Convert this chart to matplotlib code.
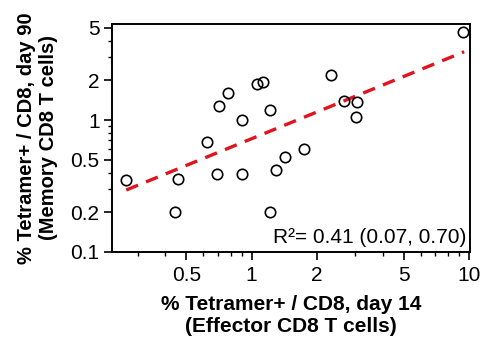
import numpy as np
import matplotlib
matplotlib.use('Agg')
import matplotlib.pyplot as plt
from matplotlib.ticker import LogLocator, FixedLocator, FixedFormatter, NullFormatter

plt.rcParams['font.family'] = ['Liberation Sans', 'DejaVu Sans']

# data
effector_d14 = [0.265, 0.456, 0.446, 0.622, 0.693, 0.708, 0.776, 0.906, 0.906, 1.054, 1.13,
                1.22, 1.21, 1.30, 1.43, 1.74, 2.31, 2.65, 3.05, 3.02, 9.35]
memory_d90 = [0.351, 0.36, 0.20, 0.678, 0.39, 1.27, 1.59, 1.0, 0.39, 1.87, 1.93,
              1.20, 0.20, 0.42, 0.52, 0.603, 2.19, 1.39, 1.37, 1.05, 4.64]
fit_x = [0.265, 9.5]
fit_y = [0.295, 3.29]
x_ticks = [0.5, 1, 2, 5, 10]
x_ticklabels = ['0.5', '1', '2', '5', '10']
y_ticks = [0.1, 0.2, 0.5, 1, 2, 5]
y_ticklabels = ['0.1', '0.2', '0.5', '1', '2', '5']

fig = plt.figure(figsize=(4.81, 3.41), dpi=100)
ax = fig.add_axes([0.233, 0.261, 0.744, 0.669])

ax.plot(fit_x, fit_y, color='#e0141e', lw=2.4, linestyle=(0, (3.8, 2.6)), zorder=2)
ax.plot(effector_d14, memory_d90, 'o', mfc='none', mec='black', ms=7.5, mew=1.2, zorder=3)

ax.set_xscale('log')
ax.set_yscale('log')
ax.set_xlim(0.228, 10.1)
ax.set_ylim(0.1, 5.35)

ax.xaxis.set_major_locator(FixedLocator(x_ticks))
ax.xaxis.set_major_formatter(FixedFormatter(x_ticklabels))
ax.yaxis.set_major_locator(FixedLocator(y_ticks))
ax.yaxis.set_major_formatter(FixedFormatter(y_ticklabels))
ax.xaxis.set_minor_locator(LogLocator(base=10, subs=np.arange(2, 10)))
ax.yaxis.set_minor_locator(LogLocator(base=10, subs=np.arange(2, 10)))
ax.xaxis.set_minor_formatter(NullFormatter())
ax.yaxis.set_minor_formatter(NullFormatter())

ax.tick_params(which='major', direction='out', length=6, width=1.2, labelsize=15, pad=3, colors='black')
ax.tick_params(which='minor', direction='out', length=3, width=1.0)
ax.tick_params(axis='x', which='major', pad=4)
for s in ax.spines.values():
    s.set_linewidth(1.4)

ax.text(0.99, 0.02, 'R²= 0.41 (0.07, 0.70)', transform=ax.transAxes, ha='right', va='bottom', fontsize=15)

ax.set_xlabel('% Tetramer+ / CD8, day 14\n(Effector CD8 T cells)', fontsize=15, fontweight='bold', linespacing=1.25, labelpad=7)
ax.set_ylabel('% Tetramer+ / CD8, day 90\n(Memory CD8 T cells)', fontsize=14.5, fontweight='bold', linespacing=1.2, labelpad=9)

fig.savefig('out.png', dpi=100)
